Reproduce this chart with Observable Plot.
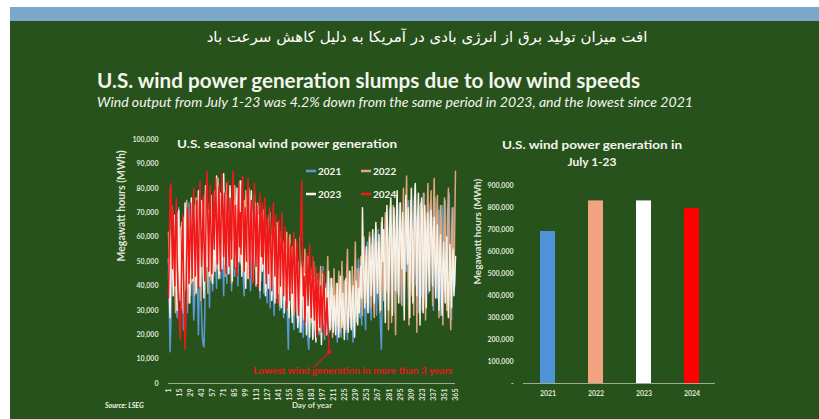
<!DOCTYPE html>
<html>
<head>
<meta charset="utf-8">
<script src="https://cdn.jsdelivr.net/npm/d3@7"></script>
<script src="https://cdn.jsdelivr.net/npm/@observablehq/plot@0.6"></script>
<style>
html,body{margin:0;padding:0;background:#fff;}
#page{position:relative;width:819px;height:419px;overflow:hidden;background:#fff;font-family:Lato,"Open Sans",sans-serif;}
#band{position:absolute;left:10px;top:7px;width:809px;height:14px;background:#7ba7ca;}
#bg{position:absolute;left:10px;top:21px;width:809px;height:398px;background:#28521b;}
#fa{position:absolute;left:187px;top:27px;width:480px;text-align:center;color:#fff;font-family:"DejaVu Sans",sans-serif;font-size:15px;line-height:20px;direction:rtl;}
#lineChart{position:absolute;left:100px;top:125px;}
#barChart{position:absolute;left:455px;top:125px;}
#overlay{position:absolute;left:0;top:0;pointer-events:none;}
</style>
</head>
<body>
<div id="page">
  <div id="band"></div>
  <div id="bg"></div>
  <div id="fa">افت میزان تولید برق از انرژی بادی در آمریکا به دلیل کاهش سرعت باد</div>
  <div id="lineChart"></div>
  <div id="barChart"></div>
  <svg id="overlay" width="819" height="419"></svg>
</div>
<script>
// ---- data (daily wind generation, thousand MWh) ----
const years = ["2021", "2022", "2023", "2024"];
const gen2021 = [
46,31,13,24,52,68,57,39,44,61,35,27,49,72,64,41,30,55,47,22,38,66,58,43,29,51,74,60,36,45,57,
40,26,33,62,71,48,35,20,42,58,37,28,19,16,15,27,45,63,52,70,49,31,56,67,44,38,61,53,
72,47,39,64,58,81,66,43,55,75,49,36,60,78,52,41,69,57,45,73,62,38,50,76,68,44,59,80,54,40,63,
71,49,57,83,65,42,36,58,74,61,47,67,79,53,38,45,70,62,51,77,56,40,48,66,73,50,35,59,68,46,
55,37,44,63,49,33,58,69,42,31,47,60,52,39,28,50,65,43,35,57,46,30,41,62,53,36,27,45,56,34,40,
25,14,33,48,39,55,43,29,22,37,51,34,27,45,36,21,31,49,40,26,19,35,46,30,24,38,17,14,28,42,
33,47,26,19,36,44,29,22,38,31,20,42,35,25,30,48,27,18,34,41,24,37,28,21,43,32,23,39,26,35,29,
22,31,17,28,40,33,24,19,36,44,27,30,21,38,25,18,34,46,29,23,37,32,17,26,41,35,28,47,39,51,33,
27,40,24,36,53,45,31,22,47,58,38,29,44,35,26,50,61,42,33,55,39,28,46,63,37,31,22,14,34,49,
58,43,31,52,66,47,38,61,72,50,34,45,65,56,29,41,69,53,37,60,74,48,33,57,67,42,30,54,71,46,62,
75,51,38,59,70,44,33,63,77,55,40,68,48,29,57,73,61,36,52,78,64,43,31,58,70,49,37,66,74,53,
68,41,30,60,76,57,45,35,62,71,50,28,55,73,64,39,46,75,58,33,49,70,78,54,42,26,59,72,63,40,52
];
const gen2022 = [
62,48,35,57,73,51,40,66,44,29,53,70,59,37,46,64,42,31,55,68,49,38,61,75,52,33,47,69,58,41,54,
67,45,36,59,76,62,43,50,71,57,34,48,73,65,39,55,78,60,46,37,63,74,51,42,68,57,44,70,
79,61,47,66,84,58,45,72,63,50,80,69,53,44,74,82,59,48,67,77,55,41,70,64,52,81,73,49,60,76,57,
68,50,83,71,54,46,75,62,79,58,43,66,80,64,51,72,57,45,69,78,53,40,61,74,49,65,56,42,70,59,
47,63,72,52,38,58,67,44,55,70,48,36,61,53,41,64,50,35,57,66,43,32,54,60,46,37,58,49,34,51,62,
44,30,53,61,40,34,56,47,28,42,59,36,49,31,25,45,60,38,27,50,43,33,55,41,26,37,52,30,24,46,
35,25,41,50,30,22,38,45,27,33,21,40,48,29,24,36,44,26,31,20,39,52,34,23,28,43,37,19,32,47,27,
30,41,24,35,46,28,21,37,50,33,26,42,31,22,45,55,36,27,40,34,23,48,38,29,44,58,35,25,39,47,32,
43,52,36,28,47,60,41,33,55,45,30,50,62,39,31,57,48,35,27,53,64,44,37,58,49,29,46,66,51,40,
34,56,70,47,38,61,22,45,68,57,25,50,73,63,42,20,48,77,59,36,53,74,44,32,62,80,55,46,71,85,58,
40,24,57,75,52,36,63,28,70,81,54,21,47,68,59,33,74,64,30,50,78,56,26,45,69,82,61,38,66,79,
55,32,71,84,60,42,67,77,52,27,58,73,64,39,24,56,76,62,45,30,68,80,51,35,22,61,72,49,38,65,87
];
const gen2023 = [
51,38,27,44,63,55,36,48,69,58,41,30,52,71,46,34,57,66,43,29,49,74,61,39,45,64,53,33,59,76,50,
42,60,73,54,37,47,68,79,57,40,52,75,63,45,35,58,81,66,48,56,71,44,62,77,53,41,65,59,
46,70,85,64,51,43,67,78,56,47,73,86,62,49,58,77,69,45,54,81,71,52,42,63,75,57,48,68,80,60,50,
66,83,59,44,55,72,64,48,39,61,77,58,43,53,70,79,56,42,50,67,74,54,41,60,69,49,38,57,65,46,
62,71,47,36,54,64,50,39,58,68,45,34,52,61,43,33,56,66,48,37,51,59,42,31,49,57,40,29,46,55,38,
50,36,27,44,54,33,25,41,52,38,30,47,35,23,39,50,31,21,43,48,34,26,45,37,20,32,46,28,19,40,
44,30,18,34,41,25,17,36,42,29,22,38,27,16,33,45,31,24,39,28,20,35,46,26,22,37,43,27,21,36,30,
20,32,41,26,19,35,44,30,23,37,28,18,31,43,36,25,21,38,46,29,22,34,40,26,19,33,42,31,24,39,29,
40,48,35,72,53,42,31,47,56,38,29,45,60,49,36,52,63,44,33,57,66,47,37,51,61,43,30,55,68,50,
63,41,25,57,73,60,30,48,69,76,51,28,58,72,54,38,66,79,45,33,62,74,56,47,70,53,26,59,77,64,49,
72,55,27,64,80,61,33,48,74,82,58,36,67,78,52,24,57,76,69,29,45,73,63,31,60,70,47,38,65,71,
58,40,62,68,47,35,56,65,43,30,54,61,39,28,50,58,44,33,52,60,37,27,46,57,41,31,49,55,36,43,52
];
const gen2024 = [
35,58,79,82,64,47,71,55,40,66,76,52,38,30,24,18,33,57,69,45,28,14,26,49,72,63,41,55,74,60,43,
68,80,57,44,62,75,50,39,71,83,65,48,58,77,61,42,53,79,87,66,46,70,81,59,45,64,78,55,72,
84,63,49,69,81,58,46,74,86,67,52,78,60,45,71,83,57,48,76,65,51,80,87,62,47,73,59,44,68,82,56,
70,53,79,85,61,46,72,64,50,77,84,58,43,67,75,55,41,69,82,60,48,73,63,39,57,78,66,52,74,49,
62,76,54,41,68,59,45,72,65,50,38,63,74,56,44,69,58,33,48,67,55,40,61,70,47,36,58,64,43,31,52,
60,45,34,57,49,37,54,62,42,30,51,58,40,28,47,55,71,83,52,36,44,25,39,53,46,32,48,57,38,27,
44,52,35,26,41,48,19,37,45,29,23,40,34,21,38,46,31,20,27,35,24,18,13
];
const lineColors = ["#5b9bd5", "#dea67d", "#f6f2e8", "#f01818"];
const dayTicks = [1,15,29,43,57,71,85,99,113,127,141,155,169,183,197,211,225,239,253,267,281,295,309,323,337,351,365];
const lineYTicks = [0,10000,20000,30000,40000,50000,60000,70000,80000,90000,100000];

// July 1-23 totals (MWh)
const julyTotals = [691000, 830000, 830000, 795000];
const barColors = ["#4f93d8", "#f1a382", "#ffffff", "#ff0000"];
const barYTicks = [0,100000,200000,300000,400000,500000,600000,700000,800000,900000];

const annotation = "Lowest wind generation in more than 3 years";

// ---- build rows ----
const series = [gen2021, gen2022, gen2023, gen2024];
const rows = [];
series.forEach((vals, s) => vals.forEach((v, i) => rows.push({year: years[s], day: i + 1, mwh: v * 1000})));
const rows2024 = rows.filter(d => d.year === "2024");
const lowPt = rows2024.reduce((a, b) => (b.mwh < a.mwh ? b : a));
const barRows = years.map((y, i) => ({year: y, mwh: julyTotals[i]}));

const axisColor = "#dfe4d6";
const fmt = d3.format(",");

const line = Plot.plot({
  width: 370, height: 290,
  marginLeft: 68, marginRight: 15, marginTop: 14, marginBottom: 32,
  style: {background: "transparent", color: axisColor, fontFamily: "Lato, sans-serif", fontSize: "7px", fontWeight: "bold", overflow: "visible"},
  x: {domain: [1, 365]},
  y: {domain: [0, 100000]},
  color: {domain: years, range: lineColors},
  marks: [
    Plot.axisY({ticks: lineYTicks, tickSize: 0, tickPadding: 10, tickFormat: fmt, label: null}),
    Plot.axisX({ticks: dayTicks, tickSize: 0, tickPadding: 5, tickRotate: -90, label: null}),
    Plot.ruleY([0], {stroke: "#9fae92", strokeWidth: 1}),
    Plot.lineY(rows, {x: "day", y: "mwh", z: "year", stroke: "year", strokeWidth: 1.5}),
    Plot.vector([lowPt], {x: "day", y: "mwh", length: 22, rotate: 225, anchor: "start", stroke: "#e8161b", strokeWidth: 1.2,
      shape: {draw(ctx, l) { ctx.moveTo(0, 0); ctx.lineTo(0, -l); }}}),
    Plot.dot([lowPt], {x: "day", y: "mwh", r: 2.2, fill: "#e8161b"}),
    Plot.text([lowPt], {x: "day", y: "mwh", text: () => annotation, dx: -76, dy: 19, textAnchor: "start", fill: "#e8161b", fontSize: 10, fontWeight: "bold"}),
    Plot.text(["Megawatt hours (MWh)"], {frameAnchor: "left", dx: -47, rotate: -90, fontSize: 10.5, fontWeight: "bold", fill: axisColor}),
    Plot.text(["Day of year"], {frameAnchor: "bottom", dy: 24, fontSize: 8, fontWeight: "bold", fill: axisColor})
  ]
});
document.getElementById("lineChart").append(line);

const bar = Plot.plot({
  width: 364, height: 290,
  marginLeft: 68, marginRight: 104, marginTop: 60, marginBottom: 32,
  style: {background: "transparent", color: axisColor, fontFamily: "Lato, sans-serif", fontSize: "7px", fontWeight: "bold", overflow: "visible"},
  x: {type: "band", domain: years, paddingInner: 0.6875, paddingOuter: 0.34375},
  y: {domain: [0, 900000]},
  color: {domain: years, range: barColors},
  marks: [
    Plot.axisY({ticks: barYTicks, tickSize: 0, tickPadding: 10, tickFormat: d => d === 0 ? "-" : fmt(d), label: null}),
    Plot.axisX({tickSize: 0, tickPadding: 8, label: null}),
    Plot.barY(barRows, {x: "year", y: "mwh", fill: "year"}),
    Plot.ruleY([0], {stroke: "#9fae92", strokeWidth: 1}),
    Plot.text(["Megawatt hours (MWh)"], {frameAnchor: "left", dx: -46, rotate: -90, fontSize: 10, fontWeight: "bold", fill: axisColor})
  ]
});
document.getElementById("barChart").append(bar);

// ---- titles, legend, source ----
const svg = d3.select("#overlay");
const txt = (x, y, s, opts) => {
  const t = svg.append("text").attr("x", x).attr("y", y).text(s)
    .attr("fill", opts.fill || "#f3f5ee")
    .attr("font-family", "Lato, sans-serif")
    .attr("font-size", opts.size)
    .attr("font-weight", opts.weight || "bold")
    .attr("font-style", opts.style || "normal")
    .attr("text-anchor", opts.anchor || "start");
  if (opts.len) t.attr("textLength", opts.len).attr("lengthAdjust", "spacingAndGlyphs");
  return t;
};
txt(97, 88, "U.S. wind power generation slumps due to low wind speeds", {size: 20, len: 543});
txt(97, 107, "Wind output from July 1-23 was 4.2% down from the same period in 2023, and the lowest since 2021", {size: 12.5, weight: "normal", style: "italic", len: 596});
txt(177, 148, "U.S. seasonal wind power generation", {size: 12, len: 220});
txt(592, 149, "U.S. wind power generation in", {size: 12, anchor: "middle", len: 180});
txt(592, 166, "July 1-23", {size: 12, anchor: "middle"});
txt(105, 408, "Source: LSEG", {size: 7, style: "italic"});

// legend
const legendPos = [[306, 171], [361, 171], [306, 194], [361, 194]];
years.forEach((y, i) => {
  const [lx, ly] = legendPos[i];
  svg.append("line").attr("x1", lx).attr("x2", lx + 10).attr("y1", ly).attr("y2", ly)
    .attr("stroke", lineColors[i]).attr("stroke-width", 2.5);
  txt(lx + 12, ly + 3.5, y, {size: 10});
});
</script>
</body>
</html>
